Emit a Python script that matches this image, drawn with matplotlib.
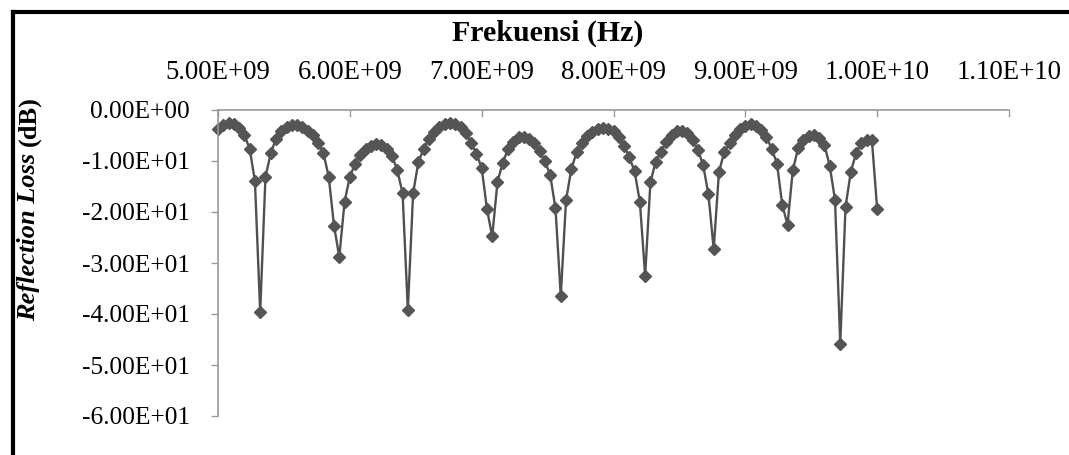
import numpy as np
import matplotlib
matplotlib.use("Agg")
import matplotlib.pyplot as plt
from matplotlib.lines import Line2D

# frequency (GHz) and reflection loss (dB)
freq_ghz = [5.00, 5.04, 5.08, 5.12, 5.16, 5.20, 5.24, 5.28, 5.32, 5.36,
            5.40, 5.44, 5.48, 5.52, 5.56, 5.60, 5.64, 5.68, 5.72, 5.76,
            5.80, 5.84, 5.88, 5.92, 5.96, 6.00, 6.04, 6.08, 6.12, 6.16,
            6.20, 6.24, 6.28, 6.32, 6.36, 6.40, 6.44, 6.48, 6.52, 6.56,
            6.60, 6.64, 6.68, 6.72, 6.76, 6.80, 6.84, 6.88, 6.92, 6.96,
            7.00, 7.04, 7.08, 7.12, 7.16, 7.20, 7.24, 7.28, 7.32, 7.36,
            7.40, 7.44, 7.48, 7.52, 7.56, 7.60, 7.64, 7.68, 7.72, 7.76,
            7.80, 7.84, 7.88, 7.92, 7.96, 8.00, 8.04, 8.08, 8.12, 8.16,
            8.20, 8.24, 8.28, 8.32, 8.36, 8.40, 8.44, 8.48, 8.52, 8.56,
            8.60, 8.64, 8.68, 8.72, 8.76, 8.80, 8.84, 8.88, 8.92, 8.96,
            9.00, 9.04, 9.08, 9.12, 9.16, 9.20, 9.24, 9.28, 9.32, 9.36,
            9.40, 9.44, 9.48, 9.52, 9.56, 9.60, 9.64, 9.68, 9.72, 9.76,
            9.80, 9.84, 9.88, 9.92, 9.96, 10.00]
rl_db = [-3.8, -2.9, -2.6, -2.8, -3.5, -4.9, -7.6, -13.9, -39.6, -13.1,
         -8.5, -5.6, -4.2, -3.4, -2.9, -2.9, -3.3, -4.1, -5.0, -6.4,
         -8.5, -13.1, -22.7, -28.8, -18.0, -13.1, -10.5, -8.8, -7.6, -7.0,
         -6.7, -6.9, -7.6, -9.0, -11.8, -16.3, -39.2, -16.3, -10.2, -7.6,
         -5.7, -4.3, -3.4, -2.8, -2.6, -2.8, -3.4, -4.5, -6.4, -8.6,
         -11.3, -19.4, -24.8, -14.1, -10.3, -7.7, -6.2, -5.3, -5.2, -5.6,
         -6.5, -8.1, -10.0, -12.8, -19.3, -36.5, -17.7, -11.6, -8.3, -6.4,
         -5.1, -4.3, -3.8, -3.6, -3.7, -4.2, -5.2, -7.0, -9.3, -12.0,
         -18.0, -32.5, -14.2, -10.1, -8.2, -6.3, -5.0, -4.2, -4.1, -4.6,
         -5.8, -7.8, -10.8, -16.5, -27.3, -12.1, -8.3, -6.4, -4.9, -3.8,
         -3.1, -2.7, -3.1, -3.9, -5.3, -7.6, -10.5, -18.6, -22.5, -11.8,
         -7.5, -5.9, -5.1, -5.0, -5.5, -6.9, -10.9, -17.6, -45.8, -19.0,
         -12.1, -8.5, -6.4, -5.8, -5.9, -19.4]

x_ticks = [5e9, 6e9, 7e9, 8e9, 9e9, 1e10, 1.1e10]
y_ticks = [0, -10, -20, -30, -40, -50, -60]

plt.rcParams['font.family'] = ['Liberation Serif', 'DejaVu Serif']

W, H = 1069, 455
fig = plt.figure(figsize=(W / 100, H / 100), dpi=100)
ax = fig.add_axes([218 / W, 1 - 416 / H, (1009 - 218) / W, (416 - 110) / H])

freq = np.array(freq_ghz) * 1e9
ax.plot(freq, rl_db, color='#505050', lw=1.7, marker='D', ms=6.5,
        mfc='#555555', mec='#555555', clip_on=False)

ax.set_xlim(5e9, 1.1e10)
ax.set_ylim(-60, 0)
ax.xaxis.tick_top()
ax.xaxis.set_label_position('top')
ax.set_xticks(x_ticks)
ax.set_xticklabels([f"{v:.2E}" for v in x_ticks])
ax.set_yticks(y_ticks)
ax.set_yticklabels([f"{v:.2E}" for v in y_ticks])
ax.tick_params(axis='x', direction='in', length=5, width=1, color='#999999',
               pad=18, labelsize=19.3)
ax.tick_params(axis='y', direction='out', length=5, width=1, color='#999999',
               pad=15, labelsize=18.3)
for s in ['right', 'bottom']:
    ax.spines[s].set_visible(False)
for s in ['left', 'top']:
    ax.spines[s].set_color('#999999')
    ax.spines[s].set_linewidth(1.2)

fig.text(548 / W, 1 - 33 / H, 'Frekuensi (Hz)', ha='center', va='center',
         fontsize=21.5, fontweight='bold')
# y label: italic bold "Reflection Loss" + bold "(dB)"
fig.text(29 / W, 1 - 146 / H, 'Reflection Loss ', rotation=90,
         rotation_mode='anchor', ha='right', va='center', fontsize=19,
         fontweight='bold', fontstyle='italic')
fig.text(29 / W, 1 - 146 / H, '(dB)', rotation=90, rotation_mode='anchor',
         ha='left', va='center', fontsize=19, fontweight='bold')

# outer frame (left and top edges)
fig.add_artist(Line2D([13 / W, 13 / W], [0, 1 - 12 / H], color='black', lw=3,
                      transform=fig.transFigure))
fig.add_artist(Line2D([13 / W, 1], [1 - 12 / H, 1 - 12 / H], color='black',
                      lw=3, transform=fig.transFigure))

fig.savefig('out.png', dpi=100)
